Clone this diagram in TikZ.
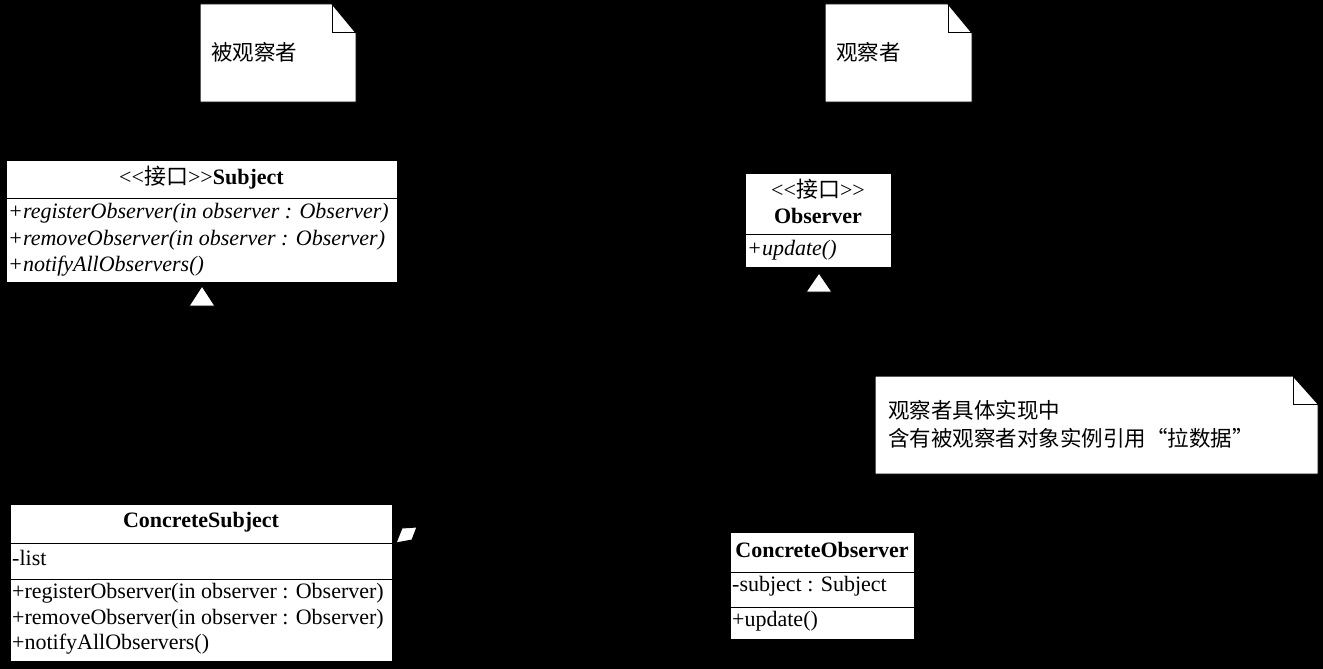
\documentclass[tikz,border=0pt]{standalone}
\usepackage{fontspec}
\setmainfont{Liberation Serif}
\newfontfamily\cjk{Noto Sans CJK SC}
\newcommand{\lt}{<\kern0pt<}
\newcommand{\gtt}{>\kern0pt>}
\tikzset{
  box/.style={draw=black, fill=white, line width=1pt, inner sep=0pt},
  txt/.style={inner sep=0pt, anchor=west, font=\fontsize{22}{26}\selectfont},
  ctxt/.style={inner sep=0pt, anchor=center, font=\fontsize{22}{26}\selectfont},
  ntxt/.style={inner sep=0pt, anchor=west, font=\fontsize{21.5}{26}\selectfont\cjk},
  tri/.style={draw=black, fill=white, line width=1pt},
  conn/.style={draw=black, line width=1pt},
}
\begin{document}
\begin{tikzpicture}[x=1pt,y=-1pt]
\useasboundingbox (0,0) rectangle (1323,669);
\fill[black] (0,0) rectangle (1323,669);

% note 1
\filldraw[box] (200,4) -- (332,4) -- (356,33) -- (356,102) -- (200,102) -- cycle;
\draw[line width=1pt] (332,4) -- (332,33) -- (356,33);
\node[ntxt] (n1) at (211,52) {被观察者};

% note 2
\filldraw[box] (825,4) -- (948,4) -- (972,33) -- (972,102) -- (825,102) -- cycle;
\draw[line width=1pt] (948,4) -- (948,33) -- (972,33);
\node[ntxt] (n2) at (836,52) {观察者};

% note 3
\filldraw[box] (875,376) -- (1293,376) -- (1318,404) -- (1318,474) -- (875,474) -- cycle;
\draw[line width=1pt] (1293,376) -- (1293,404) -- (1318,404);
\node[ntxt] (n3a) at (888,410) {观察者具体实现中};
\node[ntxt] (n3b) at (888,438) {含有被观察者对象实例引用“拉数据”};

% Subject
\node[box, minimum width=391pt, minimum height=122pt] (subj) at (201.5,221) {};
\draw[line width=1pt] (6,198) -- (397,198);
\node[ctxt] (subjt) at (201.5,178) {\lt{\cjk 接口}\gtt\textbf{Subject}};
\node[txt] (s1) at (8,213) {\itshape +registerObserver(in observer : Observer)};
\node[txt] (s2) at (8,240) {\itshape +removeObserver(in observer : Observer)};
\node[txt] (s3) at (8,266) {\itshape +notifyAllObservers()};
\filldraw[tri] (202,286) -- (215,306) -- (189,306) -- cycle;
\coordinate (subjtri) at (202,306);

% Observer
\node[box, minimum width=146pt, minimum height=94pt] (obs) at (818,220.5) {};
\draw[line width=1pt] (745,234) -- (891,234);
\node[ctxt] (obst1) at (818,189) {\lt{\cjk 接口}\gtt};
\node[ctxt] (obst2) at (818,216) {\textbf{Observer}};
\node[txt] (o1) at (747,250) {\itshape +update()};
\filldraw[tri] (819,273) -- (832,292) -- (806,292) -- cycle;
\coordinate (obstri) at (819,292);

% ConcreteSubject
\node[box, minimum width=382pt, minimum height=157pt] (csub) at (201,582.5) {};
\draw[line width=1pt] (10,543) -- (392,543);
\draw[line width=1pt] (10,579) -- (392,579);
\node[ctxt] (csubt) at (201,522) {\textbf{ConcreteSubject}};
\node[txt] (c0) at (12,558) {-list};
\node[txt] (c1) at (12,593) {+registerObserver(in observer : Observer)};
\node[txt] (c2) at (12,619) {+removeObserver(in observer : Observer)};
\node[txt] (c3) at (12,644) {+notifyAllObservers()};
\filldraw[tri] (402,528) -- (417,527) -- (412,540) -- (396,543) -- cycle;

% ConcreteObserver
\node[box, minimum width=184pt, minimum height=107pt] (cobs) at (822,585.5) {};
\draw[line width=1pt] (730,572) -- (914,572);
\draw[line width=1pt] (730,607) -- (914,607);
\node[ctxt] (cobst) at (822,550) {\textbf{ConcreteObserver}};
\node[txt] (d0) at (732,586) {-subject : Subject};
\node[txt] (d1) at (732,621) {+update()};

% connectors (black on black, as in the reference)
\draw[conn, dashed] (csub.north) -- (subjtri);
\draw[conn, dashed] (cobs.north) -- (obstri);
\end{tikzpicture}
\end{document}
